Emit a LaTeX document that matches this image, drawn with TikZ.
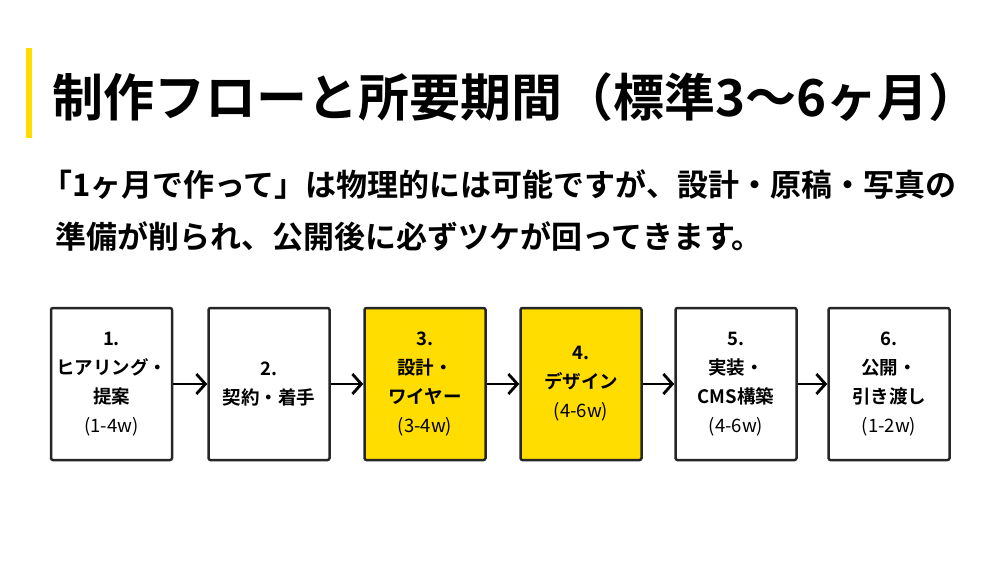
\documentclass[tikz,border=0pt]{standalone}
\usepackage{fontspec}
\setmainfont{Noto Sans CJK JP}[BoldFont={Noto Sans CJK JP Bold}]
\usetikzlibrary{arrows.meta}
\definecolor{yel}{HTML}{FFDD00}
\begin{document}
\begin{tikzpicture}[x=1pt,y=-1pt,
 box/.style={draw=black!85,line width=2.5pt,rounded corners=2pt,minimum width=121pt,minimum height=152pt,align=center,font=\fontsize{18.5}{29}\selectfont,inner sep=0pt},
 arr/.style={line width=2.8pt,-{Straight Barb[length=9pt,width=20pt,line width=2.8pt]}}]
\useasboundingbox (0,0) rectangle (1000,563);
\fill[yel] (26,48) rectangle (32,138);
\node[anchor=west,inner sep=0,font=\fontsize{51}{56}\bfseries] (title) at (52,97) {制作フローと所要期間（標準3〜6ヶ月）};
\node[anchor=west,inner sep=0,font=\fontsize{31}{34}\bfseries] (l1) at (41,185) {「1ヶ月で作って」は物理的には可能ですが、設計・原稿・写真の};
\node[anchor=west,inner sep=0,font=\fontsize{31}{34}\bfseries] (l2) at (55,237) {準備が削られ、公開後に必ずツケが回ってきます。};
\node[box] (b1) at (111.5,384) {\textbf{1.}\\\textbf{ヒアリング・}\\\textbf{提案}\\(1-4w)};
\node[box] (b2) at (269,384) {\textbf{2.}\\\textbf{契約・着手}};
\node[box,fill=yel] (b3) at (425,384) {\textbf{3.}\\\textbf{設計・}\\\textbf{ワイヤー}\\(3-4w)};
\node[box,fill=yel] (b4) at (581,384) {\textbf{4.}\\\textbf{デザイン}\\(4-6w)};
\node[box] (b5) at (736,384) {\textbf{5.}\\\textbf{実装・}\\\textbf{CMS構築}\\(4-6w)};
\node[box] (b6) at (889,384) {\textbf{6.}\\\textbf{公開・}\\\textbf{引き渡し}\\(1-2w)};
\foreach \a/\b in {b1/b2,b2/b3,b3/b4,b4/b5,b5/b6} \draw[arr] (\a) -- (\b);
\end{tikzpicture}
\end{document}
